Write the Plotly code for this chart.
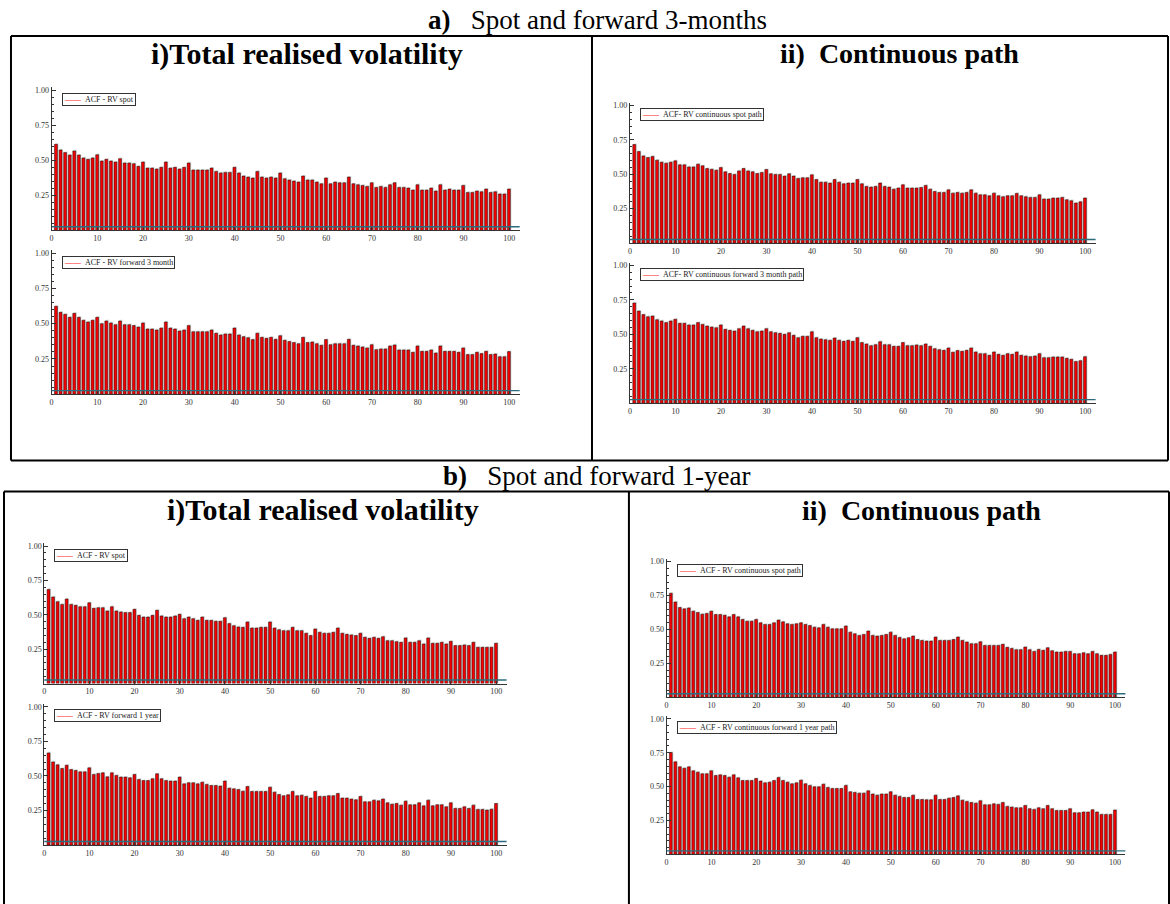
import plotly.graph_objects as go

W, H = 1170, 904
LAGS = list(range(1, 101))

# ---------------- data ----------------
ACF_A_SPOT = [0.614, 0.574, 0.555, 0.538, 0.567, 0.538, 0.517, 0.507, 0.517, 0.540,
              0.495, 0.507, 0.495, 0.488, 0.512, 0.481, 0.481, 0.476, 0.457, 0.488,
              0.445, 0.445, 0.438, 0.450, 0.488, 0.445, 0.450, 0.438, 0.450, 0.481,
              0.431, 0.431, 0.431, 0.431, 0.445, 0.421, 0.410, 0.414, 0.414, 0.450,
              0.410, 0.388, 0.381, 0.374, 0.421, 0.381, 0.374, 0.381, 0.374, 0.410,
              0.369, 0.360, 0.352, 0.345, 0.388, 0.360, 0.360, 0.345, 0.333, 0.374,
              0.333, 0.345, 0.340, 0.340, 0.381, 0.333, 0.326, 0.321, 0.314, 0.340,
              0.307, 0.314, 0.307, 0.326, 0.340, 0.307, 0.307, 0.302, 0.288, 0.326,
              0.288, 0.288, 0.302, 0.281, 0.326, 0.288, 0.295, 0.288, 0.288, 0.321,
              0.271, 0.271, 0.281, 0.276, 0.295, 0.271, 0.276, 0.260, 0.260, 0.295]

ACF_A_FWD = [0.623, 0.580, 0.566, 0.545, 0.573, 0.545, 0.524, 0.512, 0.524, 0.545,
             0.500, 0.519, 0.505, 0.493, 0.519, 0.493, 0.493, 0.486, 0.476, 0.505,
             0.462, 0.462, 0.455, 0.469, 0.512, 0.469, 0.462, 0.448, 0.455, 0.486,
             0.443, 0.443, 0.443, 0.443, 0.455, 0.432, 0.420, 0.427, 0.427, 0.469,
             0.420, 0.408, 0.401, 0.387, 0.432, 0.403, 0.396, 0.403, 0.389, 0.415,
             0.382, 0.373, 0.366, 0.358, 0.403, 0.366, 0.370, 0.358, 0.347, 0.387,
             0.351, 0.358, 0.358, 0.358, 0.389, 0.347, 0.342, 0.335, 0.328, 0.351,
             0.316, 0.321, 0.321, 0.342, 0.349, 0.314, 0.314, 0.314, 0.297, 0.342,
             0.304, 0.304, 0.314, 0.292, 0.342, 0.304, 0.304, 0.304, 0.297, 0.328,
             0.281, 0.281, 0.297, 0.288, 0.304, 0.281, 0.285, 0.266, 0.266, 0.302]

ACF_A_CONT_SPOT = [0.717, 0.666, 0.634, 0.622, 0.630, 0.603, 0.588, 0.581, 0.588, 0.598,
                   0.569, 0.569, 0.554, 0.554, 0.574, 0.562, 0.542, 0.537, 0.530, 0.549,
                   0.518, 0.506, 0.499, 0.525, 0.542, 0.525, 0.518, 0.506, 0.513, 0.535,
                   0.504, 0.499, 0.499, 0.487, 0.504, 0.487, 0.470, 0.475, 0.475, 0.496,
                   0.462, 0.443, 0.443, 0.436, 0.462, 0.443, 0.431, 0.436, 0.436, 0.462,
                   0.431, 0.412, 0.407, 0.412, 0.436, 0.412, 0.407, 0.392, 0.400, 0.424,
                   0.400, 0.400, 0.400, 0.404, 0.419, 0.392, 0.375, 0.368, 0.368, 0.387,
                   0.363, 0.368, 0.363, 0.368, 0.387, 0.363, 0.351, 0.351, 0.344, 0.363,
                   0.344, 0.337, 0.344, 0.344, 0.361, 0.344, 0.337, 0.332, 0.332, 0.351,
                   0.320, 0.320, 0.327, 0.327, 0.332, 0.315, 0.308, 0.291, 0.300, 0.327]

ACF_A_CONT_FWD = [0.727, 0.669, 0.643, 0.628, 0.633, 0.606, 0.597, 0.585, 0.597, 0.609,
                  0.580, 0.580, 0.568, 0.568, 0.585, 0.572, 0.560, 0.553, 0.548, 0.568,
                  0.536, 0.529, 0.524, 0.541, 0.560, 0.541, 0.529, 0.519, 0.524, 0.541,
                  0.519, 0.512, 0.507, 0.500, 0.512, 0.493, 0.476, 0.486, 0.486, 0.519,
                  0.476, 0.466, 0.461, 0.457, 0.473, 0.457, 0.449, 0.457, 0.449, 0.476,
                  0.440, 0.430, 0.418, 0.425, 0.447, 0.425, 0.425, 0.413, 0.413, 0.440,
                  0.418, 0.418, 0.423, 0.418, 0.430, 0.413, 0.396, 0.389, 0.384, 0.401,
                  0.370, 0.382, 0.377, 0.384, 0.401, 0.372, 0.360, 0.360, 0.348, 0.372,
                  0.355, 0.348, 0.360, 0.355, 0.372, 0.348, 0.343, 0.338, 0.343, 0.360,
                  0.331, 0.331, 0.336, 0.336, 0.336, 0.326, 0.319, 0.302, 0.309, 0.338]

ACF_B_SPOT = [0.685, 0.630, 0.596, 0.576, 0.615, 0.576, 0.569, 0.559, 0.559, 0.588,
              0.547, 0.552, 0.552, 0.528, 0.559, 0.528, 0.521, 0.516, 0.516, 0.540,
              0.496, 0.484, 0.484, 0.496, 0.533, 0.492, 0.484, 0.484, 0.492, 0.504,
              0.472, 0.484, 0.472, 0.460, 0.484, 0.460, 0.460, 0.453, 0.453, 0.479,
              0.436, 0.421, 0.412, 0.409, 0.448, 0.404, 0.404, 0.409, 0.409, 0.448,
              0.404, 0.392, 0.385, 0.385, 0.409, 0.385, 0.385, 0.366, 0.349, 0.397,
              0.373, 0.366, 0.366, 0.373, 0.404, 0.366, 0.358, 0.354, 0.349, 0.366,
              0.337, 0.329, 0.337, 0.329, 0.341, 0.312, 0.312, 0.305, 0.300, 0.332,
              0.300, 0.300, 0.312, 0.288, 0.332, 0.293, 0.293, 0.300, 0.288, 0.307,
              0.276, 0.276, 0.281, 0.276, 0.300, 0.264, 0.264, 0.264, 0.264, 0.293]

ACF_B_FWD = [0.667, 0.602, 0.581, 0.554, 0.578, 0.547, 0.540, 0.530, 0.530, 0.559,
             0.511, 0.518, 0.523, 0.494, 0.523, 0.504, 0.492, 0.492, 0.487, 0.511,
             0.475, 0.467, 0.467, 0.480, 0.516, 0.480, 0.467, 0.463, 0.463, 0.492,
             0.443, 0.451, 0.451, 0.443, 0.455, 0.439, 0.431, 0.431, 0.427, 0.463,
             0.412, 0.407, 0.402, 0.390, 0.424, 0.388, 0.388, 0.388, 0.388, 0.419,
             0.383, 0.366, 0.357, 0.364, 0.388, 0.357, 0.361, 0.352, 0.340, 0.388,
             0.352, 0.352, 0.357, 0.357, 0.373, 0.340, 0.340, 0.333, 0.328, 0.352,
             0.313, 0.313, 0.325, 0.320, 0.333, 0.306, 0.296, 0.301, 0.289, 0.318,
             0.292, 0.292, 0.306, 0.284, 0.325, 0.284, 0.292, 0.292, 0.277, 0.306,
             0.265, 0.265, 0.277, 0.265, 0.289, 0.258, 0.258, 0.253, 0.260, 0.301]

ACF_B_CONT_SPOT = [0.767, 0.703, 0.662, 0.652, 0.659, 0.635, 0.625, 0.613, 0.618, 0.635,
                   0.610, 0.610, 0.605, 0.593, 0.610, 0.593, 0.574, 0.561, 0.561, 0.574,
                   0.549, 0.537, 0.537, 0.549, 0.569, 0.556, 0.542, 0.537, 0.542, 0.549,
                   0.537, 0.529, 0.517, 0.512, 0.537, 0.517, 0.505, 0.505, 0.505, 0.525,
                   0.480, 0.468, 0.456, 0.463, 0.488, 0.456, 0.451, 0.456, 0.463, 0.480,
                   0.456, 0.441, 0.431, 0.439, 0.451, 0.426, 0.419, 0.414, 0.414, 0.444,
                   0.419, 0.419, 0.419, 0.426, 0.444, 0.419, 0.407, 0.395, 0.395, 0.409,
                   0.382, 0.382, 0.382, 0.382, 0.390, 0.368, 0.360, 0.351, 0.351, 0.370,
                   0.351, 0.338, 0.353, 0.346, 0.365, 0.343, 0.333, 0.333, 0.338, 0.338,
                   0.321, 0.321, 0.328, 0.321, 0.338, 0.321, 0.309, 0.309, 0.316, 0.333]

ACF_B_CONT_FWD = [0.752, 0.683, 0.646, 0.636, 0.646, 0.617, 0.607, 0.595, 0.595, 0.617,
                  0.582, 0.587, 0.582, 0.570, 0.587, 0.565, 0.545, 0.545, 0.545, 0.560,
                  0.541, 0.528, 0.533, 0.545, 0.568, 0.545, 0.533, 0.521, 0.528, 0.548,
                  0.521, 0.509, 0.499, 0.499, 0.518, 0.494, 0.486, 0.486, 0.486, 0.509,
                  0.462, 0.457, 0.452, 0.452, 0.469, 0.445, 0.437, 0.445, 0.445, 0.462,
                  0.437, 0.428, 0.420, 0.420, 0.437, 0.405, 0.405, 0.403, 0.403, 0.437,
                  0.405, 0.405, 0.415, 0.420, 0.432, 0.400, 0.391, 0.383, 0.378, 0.396,
                  0.366, 0.366, 0.373, 0.369, 0.383, 0.354, 0.349, 0.344, 0.344, 0.361,
                  0.337, 0.332, 0.344, 0.337, 0.361, 0.337, 0.324, 0.324, 0.324, 0.337,
                  0.307, 0.307, 0.312, 0.312, 0.329, 0.312, 0.295, 0.295, 0.295, 0.327]

CONF_BAND = 0.026

X_TICKS = list(range(0, 101, 10))
Y_TICKS = [0.25, 0.50, 0.75, 1.00]
Y_TICK_TEXT = ["0.25", "0.50", "0.75", "1.00"]

LEGEND_TEXT = [
    "ACF - RV spot",
    "ACF - RV forward 3 month",
    "ACF- RV continuous spot path",
    "ACF- RV continuous forward 3 month path",
    "ACF - RV spot",
    "ACF - RV forward 1 year",
    "ACF - RV continuous spot path",
    "ACF - RV continuous forward 1 year path",
]
SERIES = [ACF_A_SPOT, ACF_A_FWD, ACF_A_CONT_SPOT, ACF_A_CONT_FWD,
          ACF_B_SPOT, ACF_B_FWD, ACF_B_CONT_SPOT, ACF_B_CONT_FWD]

# ---------------- layout geometry (pixels) ----------------
# (x pixel of lag 0, pixels per lag, y pixel of value 0, y pixel of value 1)
GEOM = [
    (49.7, 4.583, 229.7, 89.3),
    (49.7, 4.583, 393.7, 252.3),
    (629.0, 4.56, 242.3, 104.7),
    (629.0, 4.56, 402.7, 264.7),
    (42.3, 4.527, 683.3, 545.7),
    (42.3, 4.527, 845.0, 706.7),
    (665.7, 4.493, 697.0, 561.3),
    (665.7, 4.493, 854.3, 718.7),
]
XMAX = 102.3
YMAX = 1.02

SERIF = "Liberation Serif, Times New Roman, serif"

fig = go.Figure()
layout = dict(
    width=W, height=H, autosize=False,
    margin=dict(l=0, r=0, t=0, b=0),
    paper_bgcolor="white", plot_bgcolor="white",
    showlegend=False, barmode="overlay",
    annotations=[], shapes=[],
)

for i, (vals, (x0, ppl, y0, y1)) in enumerate(zip(SERIES, GEOM), start=1):
    xa = "x" if i == 1 else f"x{i}"
    ya = "y" if i == 1 else f"y{i}"
    shadow = [v + 0.008 for v in vals]
    fig.add_trace(go.Bar(x=LAGS, y=shadow, xaxis=xa, yaxis=ya, width=0.7, offset=-0.2,
                         marker=dict(color="#d9d9d9", line=dict(width=0)), hoverinfo="skip"))
    fig.add_trace(go.Bar(x=LAGS, y=vals, xaxis=xa, yaxis=ya, width=0.64, offset=-0.37,
                         marker=dict(color="#f20000", line=dict(color="#000000", width=0.45)),
                         name=LEGEND_TEXT[i - 1]))
    pyh = (y0 - y1)
    layout[f"xaxis{i}"] = dict(
        domain=[x0 / W, (x0 + XMAX * ppl) / W], range=[0, XMAX], anchor=ya,
        showline=True, linecolor="#333", linewidth=1, showgrid=False, zeroline=False,
        ticks="inside", ticklen=3, tickcolor="#333", tickvals=X_TICKS,
        tickfont=dict(family=SERIF, size=8, color="#333"),
    )
    layout[f"yaxis{i}"] = dict(
        domain=[1 - y0 / H, 1 - (y0 - YMAX * pyh) / H], range=[0, YMAX], anchor=xa,
        showline=True, linecolor="#333", linewidth=1, showgrid=False, zeroline=False,
        ticks="inside", ticklen=4, tickcolor="#333", tickvals=Y_TICKS, ticktext=Y_TICK_TEXT,
        tickfont=dict(family=SERIF, size=8, color="#333"),
        minor=dict(ticks="inside", ticklen=2, dtick=0.05, tick0=0, tickcolor="#333", showgrid=False),
    )
    layout["shapes"].append(dict(type="line", xref=f"{xa} domain", yref=ya, x0=0, x1=1,
                                 y0=CONF_BAND, y1=CONF_BAND,
                                 line=dict(color="#2b6d7e", width=1.4)))
    layout["annotations"].append(dict(
        xref="paper", yref="paper", x=(x0 + 10) / W, y=1 - (y1 + 2.5) / H,
        xanchor="left", yanchor="top", showarrow=False, align="left",
        text="<span style='color:#ff2020'>——</span>&nbsp;&nbsp;" + LEGEND_TEXT[i - 1],
        font=dict(family=SERIF, size=8, color="#222"),
        bordercolor="#333", borderwidth=1, borderpad=1, bgcolor="white",
    ))

# titles
def add_title(text, cx, cy, size):
    layout["annotations"].append(dict(
        xref="paper", yref="paper", x=cx / W, y=1 - cy / H, xanchor="center", yanchor="middle",
        showarrow=False, text=text, font=dict(family=SERIF, size=size, color="black")))

add_title("<b>a)</b>&nbsp;&nbsp;&nbsp;Spot and forward 3-months", 597, 19, 27)
add_title("<b>b)</b>&nbsp;&nbsp;&nbsp;Spot and forward 1-year", 596, 476, 27)
add_title("<b>i)Total realised volatility</b>", 306, 53, 30)
add_title("<b>ii)&nbsp; Continuous path</b>", 899, 53, 28)
add_title("<b>i)Total realised volatility</b>", 322, 510, 30)
add_title("<b>ii)&nbsp; Continuous path</b>", 921, 510, 28)

# frame boxes
def add_line(xp0, yp0, xp1, yp1):
    layout["shapes"].append(dict(type="line", xref="paper", yref="paper",
                                 x0=xp0 / W, x1=xp1 / W, y0=1 - yp0 / H, y1=1 - yp1 / H,
                                 line=dict(color="black", width=2)))

add_line(9, 35, 1168, 35)
add_line(9, 460, 1168, 460)
add_line(9, 35, 9, 460)
add_line(1168, 35, 1168, 460)
add_line(591, 35, 591, 460)
add_line(2, 491, 1169, 491)
add_line(2, 491, 2, 910)
add_line(1169, 491, 1169, 910)
add_line(628, 491, 628, 910)

fig.update_layout(**layout)
fig.write_html("out.html", config={"displayModeBar": False},
               post_script="document.body.style.margin='0';document.body.style.padding='0';")
